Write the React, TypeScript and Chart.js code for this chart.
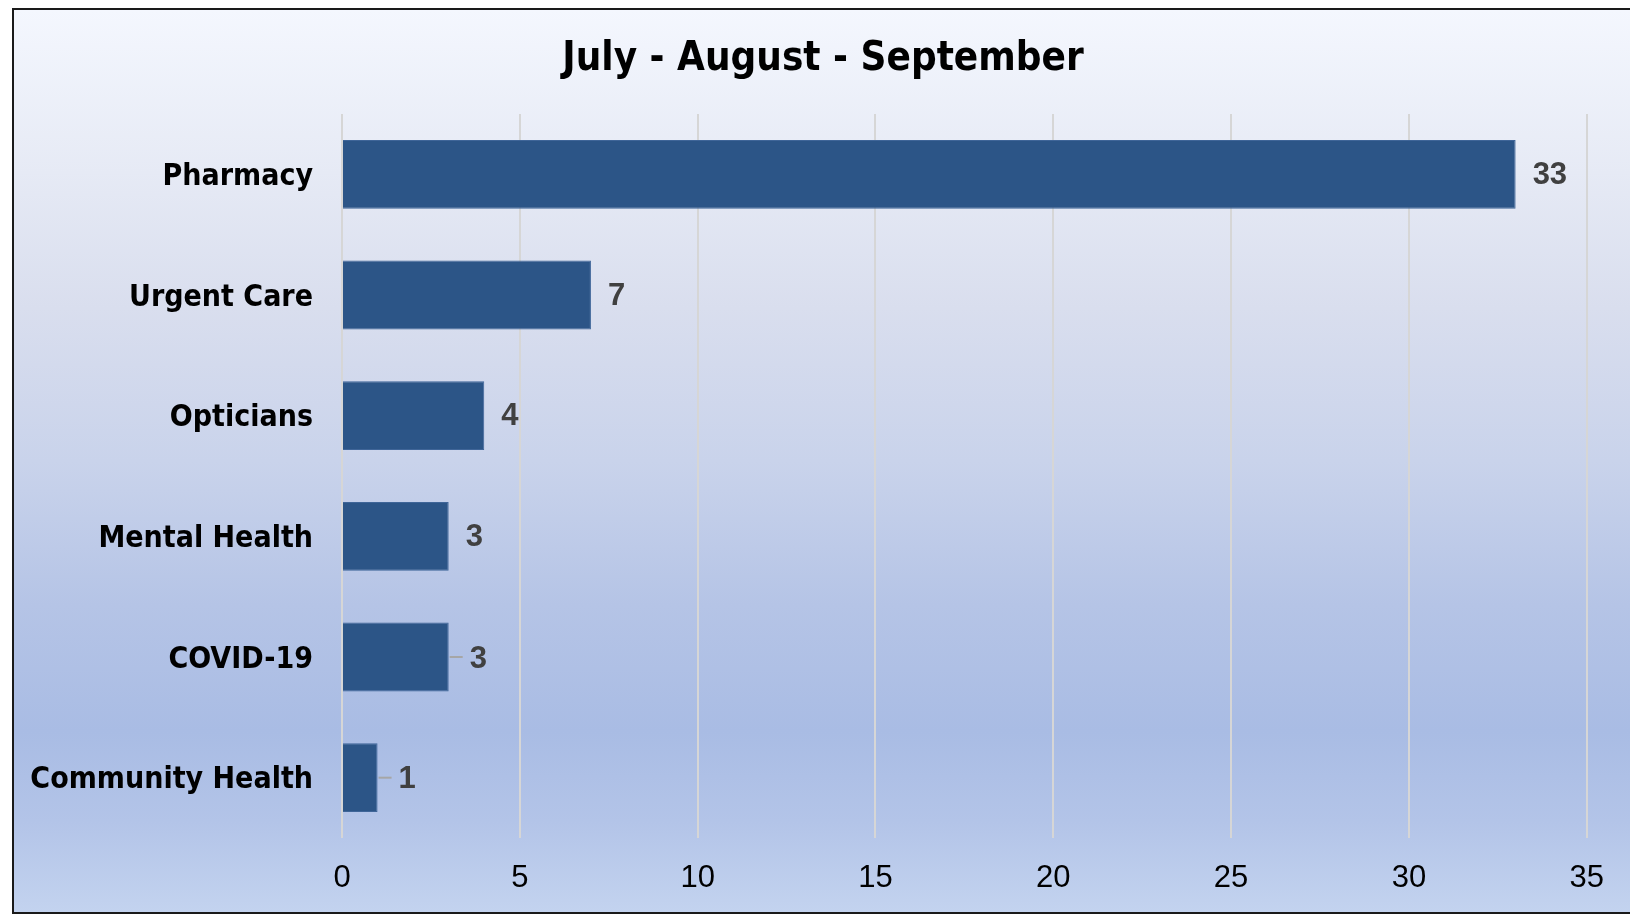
import React, { useEffect, useRef } from 'react';
import { Chart, registerables } from 'chart.js';

Chart.register(...registerables);

const chartTitle = 'July - August - September';
const categories = ['Pharmacy', 'Urgent Care', 'Opticians', 'Mental Health', 'COVID-19', 'Community Health'];
const counts = [33, 7, 4, 3, 3, 1];
const xMin = 0;
const xMax = 35;
const xStep = 5;
const leaderLineCategories = ['COVID-19', 'Community Health'];

const labelFamily = '"DejaVu Sans Condensed", "Open Sans", sans-serif';
const numberFamily = '"Liberation Sans", Arial, sans-serif';

const titlePlugin = {
  id: 'centeredTitle',
  afterDraw(chart: any) {
    const ctx = chart.ctx;
    ctx.save();
    ctx.font = `bold 40px ${labelFamily}`;
    ctx.fillStyle = '#000000';
    ctx.textAlign = 'center';
    ctx.textBaseline = 'middle';
    ctx.fillText(chartTitle, chart.width / 2 + 3, 50);
    ctx.restore();
  },
};

const valueLabelPlugin = {
  id: 'valueLabels',
  afterDatasetsDraw(chart: any) {
    const ctx = chart.ctx;
    const meta = chart.getDatasetMeta(0);
    ctx.save();
    ctx.font = `bold 31px ${numberFamily}`;
    ctx.fillStyle = '#404040';
    ctx.textAlign = 'left';
    ctx.textBaseline = 'middle';
    meta.data.forEach((bar: any, i: number) => {
      const value = chart.data.datasets[0].data[i];
      const cat = chart.data.labels[i];
      const hasLeader = leaderLineCategories.includes(cat);
      const x = bar.x;
      const y = bar.y;
      if (hasLeader) {
        ctx.strokeStyle = '#a6a6a6';
        ctx.lineWidth = 2;
        ctx.beginPath();
        ctx.moveTo(x + 1, y);
        ctx.lineTo(x + 14, y);
        ctx.stroke();
        ctx.fillText(String(value), x + 21, y + 2);
      } else {
        ctx.fillText(String(value), x + 17, y + 1);
      }
    });
    ctx.restore();
  },
};

export default function App() {
  const canvasRef = useRef<HTMLCanvasElement | null>(null);

  useEffect(() => {
    document.body.style.margin = '0';
    document.body.style.overflow = 'hidden';
    const canvas = canvasRef.current;
    if (!canvas) return;
    const chart = new Chart(canvas, {
      type: 'bar',
      data: {
        labels: categories,
        datasets: [
          {
            data: counts,
            backgroundColor: '#2c5587',
            borderColor: '#3f6598',
            borderWidth: 1,
            barPercentage: 0.57,
            categoryPercentage: 1,
          },
        ],
      },
      options: {
        indexAxis: 'y',
        responsive: false,
        animation: false,
        layout: { padding: { left: 0, right: 39, top: 104, bottom: 0 } },
        plugins: {
          legend: { display: false },
          tooltip: { enabled: false },
          title: { display: false },
        },
        scales: {
          x: {
            type: 'linear',
            min: xMin,
            max: xMax,
            border: { display: false },
            grid: { color: '#d6d6d6', lineWidth: 2, drawTicks: false },
            ticks: {
              stepSize: xStep,
              color: '#000000',
              font: { family: numberFamily, size: 31 },
              padding: 22,
            },
            afterFit(scale: any) {
              scale.height = 74;
            },
          },
          y: {
            border: { display: false },
            grid: { display: false, drawTicks: false },
            ticks: {
              color: '#000000',
              font: { family: labelFamily, size: 30, weight: 'bold' },
              padding: 29,
              labelOffset: 3,
            },
            afterFit(scale: any) {
              scale.width = 328;
            },
          },
        },
      },
      plugins: [valueLabelPlugin, titlePlugin],
    });
    return () => chart.destroy();
  }, []);

  return (
    <div
      style={{
        position: 'fixed',
        left: 0,
        top: 0,
        width: 1630,
        height: 914,
        overflow: 'hidden',
        background: '#ffffff',
      }}
    >
      <div
        style={{
          position: 'absolute',
          left: 12,
          top: 8,
          width: 1660,
          height: 906,
          boxSizing: 'border-box',
          border: '2px solid #1a1a1a',
          background:
            'linear-gradient(to bottom, #f4f7fe 0%, #e6eaf5 18%, #d9deee 33%, #c9d3eb 50%, #b5c4e6 66%, #a9bce4 80%, #b3c4e8 90%, #c3d3ef 100%)',
        }}
      >
        <canvas ref={canvasRef} width={1612} height={902} style={{ display: 'block' }} />
      </div>
    </div>
  );
}
